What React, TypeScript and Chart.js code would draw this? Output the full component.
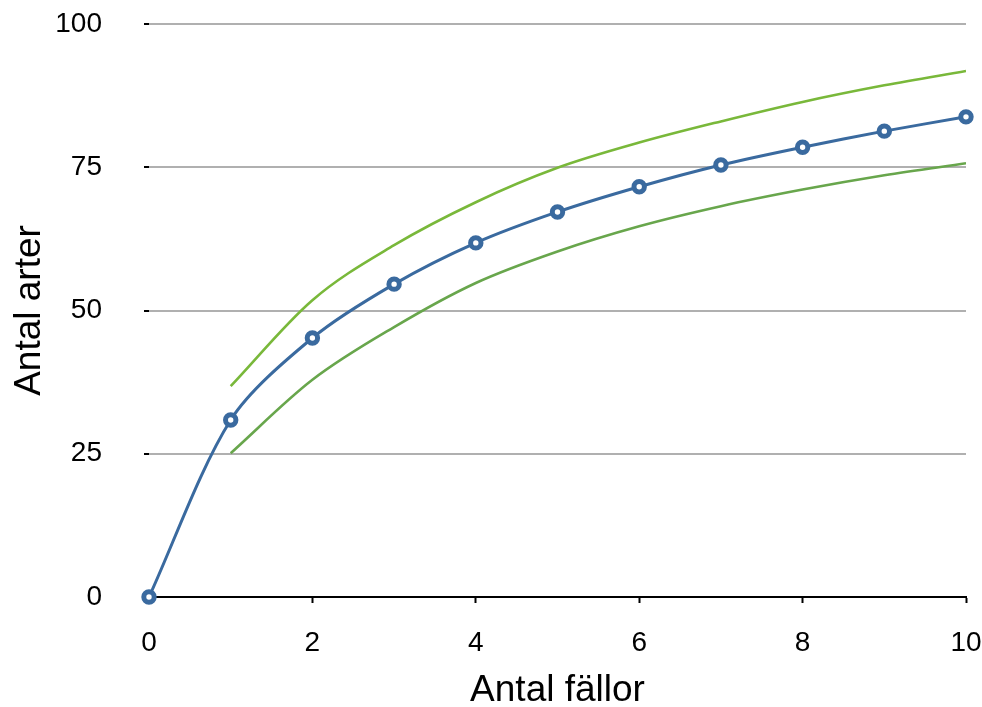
import React, { useEffect, useRef } from "react";
import { Chart, registerables } from "chart.js";

Chart.register(...registerables);

const traps = [0, 1, 2, 3, 4, 5, 6, 7, 8, 9, 10];
const speciesMean = [0, 30.9, 45.2, 54.6, 61.8, 67.2, 71.6, 75.4, 78.5, 81.3, 83.8];
const boundTraps = [1, 2, 3, 4, 5, 6, 7, 8, 9, 10];
const upperBound = [36.8, 51.8, 61.4, 68.9, 74.9, 79.3, 83.0, 86.4, 89.3, 91.8];
const lowerBound = [25.1, 37.9, 47.1, 54.8, 60.3, 64.7, 68.2, 71.1, 73.6, 75.7];
const xTickLabels = ["0", "2", "4", "6", "8", "10"];
const yTickLabels = ["0", "25", "50", "75", "100"];

const FONT = '"Liberation Sans", Arial, Helvetica, sans-serif';

export default function App() {
  const ref = useRef<HTMLCanvasElement | null>(null);

  useEffect(() => {
    if (!ref.current) return;
    const toPts = (xs: number[], ys: number[]) => xs.map((x, i) => ({ x, y: ys[i] }));
    const chart = new Chart(ref.current, {
      type: "line",
      data: {
        datasets: [
          {
            label: "Övre",
            data: toPts(boundTraps, upperBound),
            borderColor: "#79b83a",
            borderWidth: 2.6,
            pointRadius: 0,
            cubicInterpolationMode: "monotone",
            fill: false,
          },
          {
            label: "Undre",
            data: toPts(boundTraps, lowerBound),
            borderColor: "#68a64c",
            borderWidth: 2.6,
            pointRadius: 0,
            cubicInterpolationMode: "monotone",
            fill: false,
          },
          {
            label: "Antal arter",
            data: toPts(traps, speciesMean),
            borderColor: "#3a6a9f",
            borderWidth: 3,
            pointRadius: 5.2,
            pointBorderWidth: 5,
            pointBackgroundColor: "#ffffff",
            pointBorderColor: "#3a6a9f",
            tension: 0.3,
            fill: false,
            clip: false,
          },
        ],
      },
      options: {
        animation: false,
        responsive: false,
        maintainAspectRatio: false,
        layout: { padding: { top: 24, right: 16, left: 0, bottom: 0 } },
        plugins: { legend: { display: false }, tooltip: { enabled: false } },
        scales: {
          x: {
            type: "linear",
            min: 0,
            max: 10,
            afterFit: (s: any) => {
              s.height = 110;
              s.paddingLeft = 0;
              s.paddingRight = 0;
            },
            ticks: {
              stepSize: 2,
              color: "#000",
              padding: 23,
              font: { family: FONT, size: 28 },
              callback: (v: any) => {
                const s = String(v);
                return xTickLabels.includes(s) ? s : "";
              },
              maxRotation: 0,
            },
            grid: {
              drawOnChartArea: false,
              drawTicks: true,
              tickLength: 6,
              tickColor: "#000",
              tickWidth: 2,
            },
            border: { display: true, color: "#000", width: 2 },
            title: {
              display: true,
              text: "Antal fällor",
              color: "#000",
              font: { family: FONT, size: 37, lineHeight: 0.86 },
              padding: 0,
            },
          },
          y: {
            type: "linear",
            min: 0,
            max: 100,
            afterFit: (s: any) => {
              s.width = 149;
              s.paddingTop = 0;
              s.paddingBottom = 0;
            },
            ticks: {
              stepSize: 25,
              color: "#000",
              padding: 42,
              font: { family: FONT, size: 28 },
              callback: (v: any) => {
                const s = String(v);
                return yTickLabels.includes(s) ? s : "";
              },
            },
            grid: {
              color: (ctx: any) => (ctx.tick && ctx.tick.value === 0 ? "rgba(0,0,0,0)" : "#b0b0b0"),
              lineWidth: 2,
              drawTicks: true,
              tickLength: 5,
              tickColor: "#000",
              tickWidth: 2,
            },
            border: { display: false },
            title: {
              display: true,
              text: "Antal arter",
              color: "#000",
              font: { family: FONT, size: 37, lineHeight: 1.2 },
              padding: 8,
            },
          },
        },
      },
    });
    return () => chart.destroy();
  }, []);

  return (
    <div style={{ position: "fixed", left: 0, top: 0, width: 982, height: 707, background: "#fff" }}>
      <canvas ref={ref} width={982} height={707} style={{ width: 982, height: 707 }} />
    </div>
  );
}
